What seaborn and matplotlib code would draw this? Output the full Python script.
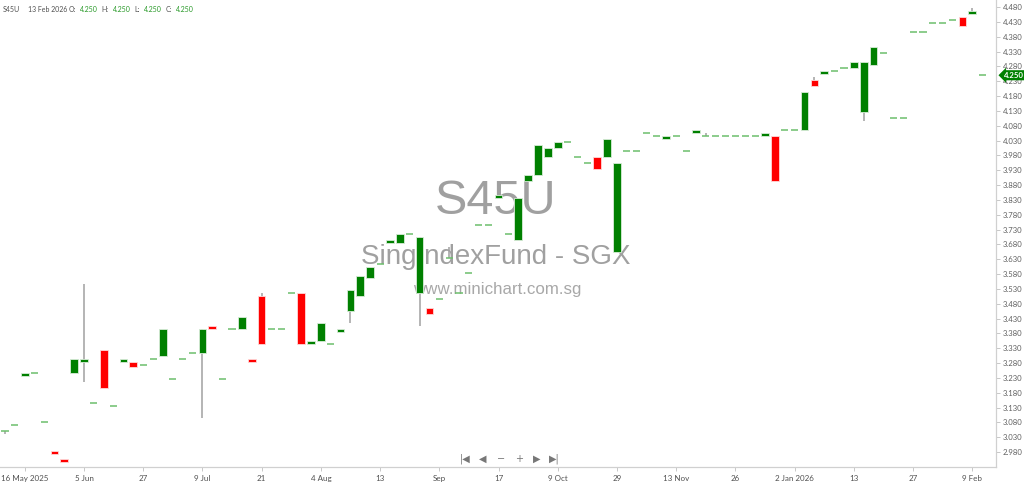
import numpy as np
import pandas as pd
import matplotlib
matplotlib.use('Agg')
import matplotlib.pyplot as plt
import matplotlib.transforms as mtransforms
import seaborn as sns

sns.set_style('white')
plt.rcParams['font.family'] = ['Lato', 'DejaVu Sans']

# daily candles (only days with trades)
opens = [3.05, 3.07, 3.235, 3.245, 3.08, 2.985, 2.955, 3.245, 3.285, 3.145,
         3.325, 3.135, 3.285, 3.285, 3.275, 3.295, 3.305, 3.225, 3.295, 3.315,
         3.315, 3.405, 3.225, 3.395, 3.395, 3.295, 3.505, 3.395, 3.395, 3.515,
         3.515, 3.345, 3.355, 3.345, 3.385, 3.455, 3.505, 3.565, 3.615, 3.685,
         3.685, 3.715, 3.515, 3.465, 3.495, 3.635, 3.515, 3.585, 3.745, 3.745,
         3.835, 3.715, 3.695, 3.895, 3.915, 3.975, 4.005, 4.025, 3.975, 3.955,
         3.975, 3.975, 3.655, 3.995, 3.995, 4.055, 4.045, 4.035, 4.045, 3.995,
         4.055, 4.045, 4.045, 4.045, 4.045, 4.045, 4.045, 4.045, 4.045, 4.065,
         4.065, 4.065, 4.235, 4.255, 4.265, 4.275, 4.275, 4.125, 4.285, 4.325,
         4.105, 4.105, 4.395, 4.395, 4.425, 4.425, 4.435, 4.445, 4.455, 4.25]
closes = [3.05, 3.07, 3.245, 3.245, 3.08, 2.975, 2.945, 3.295, 3.295, 3.145,
          3.195, 3.135, 3.295, 3.265, 3.275, 3.295, 3.395, 3.225, 3.295, 3.315,
          3.395, 3.395, 3.225, 3.395, 3.435, 3.285, 3.345, 3.395, 3.395, 3.515,
          3.345, 3.355, 3.415, 3.345, 3.395, 3.525, 3.575, 3.605, 3.615, 3.695,
          3.715, 3.715, 3.705, 3.445, 3.495, 3.635, 3.515, 3.585, 3.745, 3.745,
          3.845, 3.715, 3.835, 3.915, 4.015, 4.005, 4.025, 4.025, 3.975, 3.955,
          3.935, 4.035, 3.955, 3.995, 3.995, 4.055, 4.045, 4.045, 4.045, 3.995,
          4.065, 4.045, 4.045, 4.045, 4.045, 4.045, 4.045, 4.055, 3.895, 4.065,
          4.065, 4.195, 4.215, 4.265, 4.265, 4.275, 4.295, 4.295, 4.345, 4.325,
          4.105, 4.105, 4.395, 4.395, 4.425, 4.425, 4.435, 4.415, 4.465, 4.25]
# only candles whose high/low reach past the body
highs = {8: 3.545, 26: 3.515, 45: 3.67, 71: 4.055, 82: 4.245, 98: 4.475}
lows = {0: 3.04, 8: 3.215, 20: 3.095, 35: 3.415, 42: 3.405, 87: 4.095}

xtick_pos = [2, 8, 14, 20, 26, 32, 38, 44, 50, 56, 62, 68, 74, 80, 86, 92, 98]
xtick_labels = ['16 May 2025', '5 Jun', '27', '9 Jul', '21', '4 Aug', '13', 'Sep', '17',
                '9 Oct', '29', '13 Nov', '26', '2 Jan 2026', '13', '27', '9 Feb']
ytick_vals = [2.98, 3.03, 3.08, 3.13, 3.18, 3.23, 3.28, 3.33, 3.38, 3.43, 3.48, 3.53,
              3.58, 3.63, 3.68, 3.73, 3.78, 3.83, 3.88, 3.93, 3.98, 4.03, 4.08, 4.13,
              4.18, 4.23, 4.28, 4.33, 4.38, 4.43, 4.48]

df = pd.DataFrame({'open': opens, 'close': closes})
df['high'] = [max(o, c, highs.get(i, 0)) for i, (o, c) in enumerate(zip(opens, closes))]
df['low'] = [min(o, c, lows.get(i, 9)) for i, (o, c) in enumerate(zip(opens, closes))]
df['i'] = range(len(df))

GREEN = '#008000'
RED = '#ff0000'
FLAT = '#6cbf6c'

fig = plt.figure(figsize=(10.24, 4.84), dpi=100)
ax = fig.add_axes([0, 17 / 484, 996 / 1024, 467 / 484])

# watermark
ax.text(0.498, 0.568, 'S45U', transform=ax.transAxes, ha='center', va='center',
        fontsize=35, color='#a0a0a0', family=['Liberation Sans'], zorder=0)
ax.text(0.498, 0.449, 'SingIndexFund - SGX', transform=ax.transAxes, ha='center',
        va='center', fontsize=20, color='#a0a0a0', family=['Liberation Sans'], zorder=0)
ax.text(0.499, 0.381, 'www.minichart.com.sg', transform=ax.transAxes, ha='center',
        va='center', fontsize=12.2, color='#a8a8a8', family=['Liberation Sans'], zorder=0)

# wicks
wick = df[(df.high > df[['open', 'close']].max(axis=1)) | (df.low < df[['open', 'close']].min(axis=1))]
ax.vlines(wick.i, wick.low, wick.high, color='#a0a0a0', lw=1.1, zorder=2)

up = df[df.close > df.open]
dn = df[df.close < df.open]
flat = df[df.close == df.open]
ax.bar(up.i, up.close - up.open, bottom=up.open, width=0.78, color=GREEN,
       edgecolor='#d8ecd8', linewidth=0.6, zorder=3)
ax.bar(dn.i, dn.open - dn.close, bottom=dn.close, width=0.78, color=RED,
       edgecolor='#ffd8d8', linewidth=0.6, zorder=3)
ax.hlines(flat.close, flat.i - 0.36, flat.i + 0.36, color=FLAT, lw=1.1, zorder=3)

ax.set_xlim(-0.507, 100.4)
ax.set_ylim(2.9296, 4.5036)

ax.set_xticks(xtick_pos)
ax.set_xticklabels(xtick_labels)
ax.set_yticks(ytick_vals)
ax.set_yticklabels([f'{v:.3f}' for v in ytick_vals])
ax.yaxis.tick_right()
ax.tick_params(axis='x', length=3, width=0.7, color='#c8c8c8', labelsize=5.8,
               labelcolor='#505050', pad=2.5, bottom=True)
ax.tick_params(axis='y', length=3, width=0.7, color='#c8c8c8', labelsize=5.6,
               labelcolor='#606060', pad=2, right=True, left=False)

for side in ['top', 'left']:
    ax.spines[side].set_visible(False)
for side in ['bottom', 'right']:
    ax.spines[side].set_color('#d0d0d0')
    ax.spines[side].set_linewidth(0.9)

# last price tag on the price scale
trans = mtransforms.blended_transform_factory(ax.transAxes, ax.transData)
ax.text(1.008, closes[-1], f'{closes[-1]:.3f}', transform=trans, ha='left', va='center',
        fontsize=5.6, color='white', fontweight='bold', clip_on=False, zorder=10,
        bbox=dict(boxstyle='larrow,pad=0.2', fc=GREEN, ec='none'))

# header line
hdr = [('S45U', 3, '#505050'), ('13 Feb 2026', 28, '#505050'), ('O:', 69, '#505050'),
       ('4.250', 80, '#2a9a2a'), ('H:', 101, '#505050'), ('4.250', 113, '#2a9a2a'),
       ('L:', 134, '#505050'), ('4.250', 144, '#2a9a2a'), ('C:', 166, '#505050'),
       ('4.250', 176, '#2a9a2a')]
for s, px, col in hdr:
    fig.text(px / 1024, 1 - 10 / 484, s, ha='left', va='center', fontsize=5.0, color=col)

# navigation buttons
nav = ['|◀', '◀', '−', '+', '▶', '▶|']
for k, s in enumerate(nav):
    fig.text((465 + 17.9 * k) / 1024, 1 - 459 / 484, s, ha='center', va='center',
             fontsize=7, color='#777777', family=['DejaVu Sans'])

fig.savefig('out.png', dpi=100)
